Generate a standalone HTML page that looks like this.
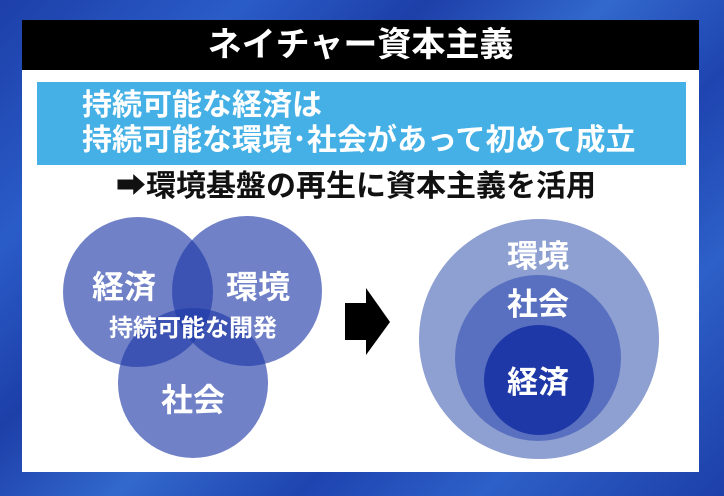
<!DOCTYPE html>
<html><head><meta charset="utf-8"><style>
html,body{margin:0;padding:0;}
body{width:724px;height:496px;overflow:hidden;position:relative;font-family:"Liberation Sans","Noto Sans CJK JP",sans-serif;
background:linear-gradient(135deg,#1d3fa8 0%,#2a5cc8 20%,#1d3fa8 35%,#3268cc 50%,#1e44b0 65%,#2d60c8 80%,#1d3fa8 100%);}
.panel{position:absolute;left:22px;top:20px;width:677px;height:452px;background:#fff;}
.title{position:absolute;left:22px;top:20px;width:677px;height:50px;background:#000;color:#fff;font-size:34px;font-weight:bold;text-align:center;line-height:50px;}
.box{position:absolute;left:37px;top:82px;width:649px;height:83px;background:#45b0e6;}
.t{position:absolute;color:#fff;font-weight:bold;font-size:30px;white-space:nowrap;line-height:1;}
.sub{position:absolute;left:116px;top:172px;font-size:30px;font-weight:bold;color:#111;white-space:nowrap;line-height:1;}
svg{position:absolute;left:0;top:0;}
</style></head><body>
<div class="panel"></div>
<div class="title">ネイチャー資本主義</div>
<div class="box"></div>
<div class="t" style="left:82px;top:91px;">持続可能な経済は</div>
<div class="t" style="left:82px;top:126px;">持続可能な環境･社会があって初めて成立</div>
<div class="sub">➡環境基盤の再生に資本主義を活用</div>
<svg width="724" height="496" font-family="Liberation Sans, Noto Sans CJK JP, sans-serif" font-weight="bold" fill="#fff">
<g fill="#1f3aa8" fill-opacity="0.64">
<circle cx="138" cy="292" r="75"/>
<circle cx="247" cy="291" r="75"/>
<circle cx="193" cy="383" r="75"/>
</g>
<text x="124" y="298" font-size="32" text-anchor="middle" fill="#fff">経済</text>
<text x="258" y="298" font-size="32" text-anchor="middle" fill="#fff">環境</text>
<text x="193" y="336" font-size="24" text-anchor="middle" fill="#fff">持続可能な開発</text>
<text x="193" y="411" font-size="32" text-anchor="middle" fill="#fff">社会</text>
<polygon points="345,303 366,303 366,288 390,322 366,355 366,340 345,340" fill="#000"/>
<circle cx="539" cy="339" r="120" fill="#8e9fd2"/>
<circle cx="538" cy="358" r="83" fill="#5870bf"/>
<circle cx="539" cy="380" r="55" fill="#1e38a8"/>
<text x="538" y="267" font-size="31" text-anchor="middle" fill="#fff">環境</text>
<text x="538" y="315" font-size="31" text-anchor="middle" fill="#fff">社会</text>
<text x="538" y="393" font-size="31" text-anchor="middle" fill="#fff">経済</text>
</svg>
</body></html>
